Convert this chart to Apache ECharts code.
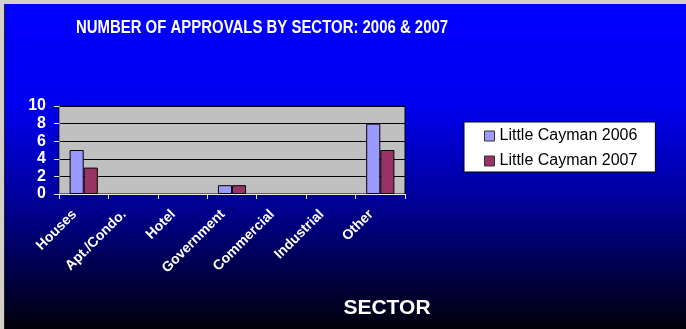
<!DOCTYPE html>
<html>
<head>
<meta charset="utf-8">
<script src="https://cdn.jsdelivr.net/npm/echarts@6/dist/echarts.min.js"></script>
<style>
html,body{margin:0;padding:0;background:#d4d0c8;}
#frame{position:absolute;left:4px;top:4px;width:682px;height:325px;border-left:1px solid #222;box-sizing:border-box;}
#chart{width:681px;height:325px;}
</style>
</head>
<body>
<div id="frame"><div id="chart"></div></div>
<script>
const categories = ['Houses', 'Apt./Condo.', 'Hotel', 'Government', 'Commercial', 'Industrial', 'Other'];
const series2006 = [5, 0, 0, 1, 0, 0, 8];
const series2007 = [3, 0, 0, 1, 0, 0, 5];
const seriesNames = ['Little Cayman 2006', 'Little Cayman 2007'];
const yTicks = [0, 2, 4, 6, 8, 10];
const titleText = 'NUMBER OF APPROVALS BY SECTOR: 2006 & 2007';
const axisName = 'SECTOR';

function toBarData(arr) {
  return arr.map(v => ({value: v, itemStyle: {borderWidth: v ? 1 : 0, opacity: v ? 1 : 0}}));
}

const chart = echarts.init(document.getElementById('chart'), null, {renderer: 'canvas'});
chart.setOption({
  animation: false,
  backgroundColor: {
    type: 'linear', x: 0, y: 0, x2: 0, y2: 1,
    colorStops: [
      {offset: 0, color: '#0000ff'},
      {offset: 0.3, color: '#0000f2'},
      {offset: 0.6, color: '#00009a'},
      {offset: 1, color: '#00000a'}
    ]
  },
  graphic: [
    {
      type: 'text', x: 257, y: 24, scaleX: 0.83,
      style: {
        text: titleText, fill: '#fff',
        font: 'bold 18px "Liberation Sans", Arial, sans-serif',
        textAlign: 'center', textVerticalAlign: 'middle'
      }
    },
    {
      type: 'text', x: 382, y: 304,
      style: {
        text: axisName, fill: '#fff',
        font: 'bold 21px "Liberation Sans", Arial, sans-serif',
        textAlign: 'center', textVerticalAlign: 'middle'
      }
    }
  ],
  legend: {
    orient: 'vertical',
    left: 459, top: 118,
    width: 192,
    padding: [6, 18, 3, 20],
    backgroundColor: '#fff',
    borderColor: '#000',
    borderWidth: 1,
    icon: 'rect',
    itemWidth: 10, itemHeight: 10,
    itemGap: 9,
    itemStyle: {borderColor: '#333', borderWidth: 1},
    textStyle: {color: '#000', fontFamily: '"Liberation Sans", Arial, sans-serif', fontSize: 16},
    data: seriesNames
  },
  grid: {
    left: 54, top: 102, width: 346, height: 88,
    show: true, backgroundColor: '#c0c0c0', borderColor: '#000', borderWidth: 1,
    containLabel: false
  },
  xAxis: {
    type: 'category',
    data: categories,
    boundaryGap: true,
    axisLine: {show: true, lineStyle: {color: '#e8e8e8', width: 1}},
    axisTick: {show: true, alignWithLabel: false, length: 5, lineStyle: {color: '#e8e8e8'}},
    axisLabel: {
      rotate: 45, interval: 0, margin: 9,
      padding: [0, 13, 0, 0],
      color: '#fff', fontWeight: 'bold', fontSize: 14,
      fontFamily: '"Liberation Sans", Arial, sans-serif'
    }
  },
  yAxis: {
    type: 'value',
    min: yTicks[0], max: yTicks[yTicks.length - 1], interval: 2,
    axisLine: {show: true, lineStyle: {color: '#808080', width: 1}},
    axisTick: {show: true, length: 5, lineStyle: {color: '#e8e8e8'}},
    splitLine: {show: true, lineStyle: {color: '#000', width: 1}},
    axisLabel: {
      color: '#fff', fontWeight: 'bold', fontSize: 16, margin: 13,
      fontFamily: '"Liberation Sans", Arial, sans-serif'
    }
  },
  series: [
    {
      name: seriesNames[0], type: 'bar', data: toBarData(series2006),
      barGap: '0%', barCategoryGap: '43%',
      itemStyle: {color: '#9999ff', borderColor: '#000', borderWidth: 1}
    },
    {
      name: seriesNames[1], type: 'bar', data: toBarData(series2007),
      barGap: '0%', barCategoryGap: '43%',
      itemStyle: {color: '#993366', borderColor: '#000', borderWidth: 1}
    }
  ]
});
</script>
</body>
</html>
